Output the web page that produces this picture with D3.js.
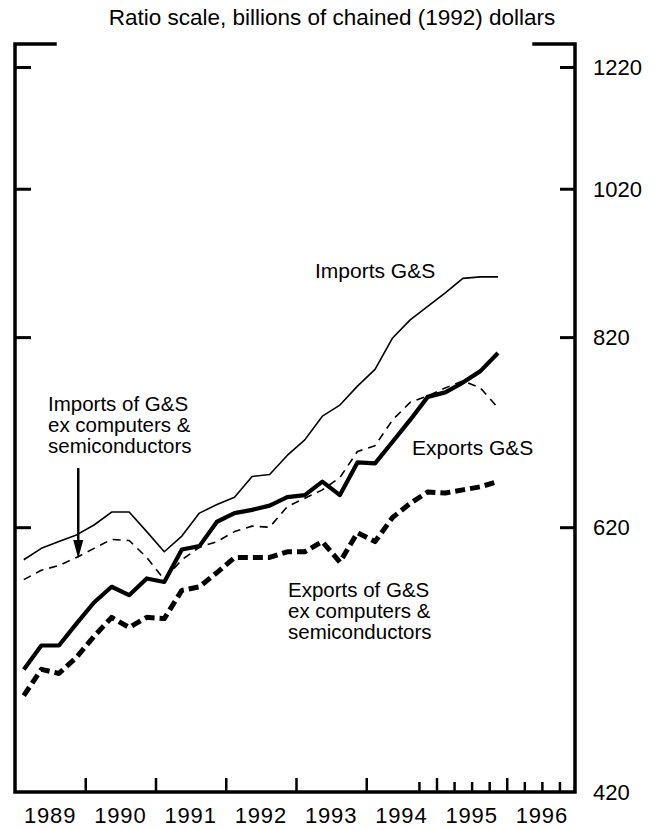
<!DOCTYPE html>
<html>
<head>
<meta charset="utf-8">
<script src="https://cdn.jsdelivr.net/npm/d3@7"></script>
<style>
  html, body { margin: 0; padding: 0; background: #fff; }
  svg { display: block; }
  text { font-family: "Liberation Sans", Arial, Helvetica, sans-serif; fill: #000; }
</style>
</head>
<body>
<svg id="chart" width="663" height="830"></svg>
<script>
// Quarterly observations, 1989:Q1 – 1995:Q4 (billions of chained 1992 dollars)
const quarters = d3.range(28).map(i => 1989 + Math.floor(i / 4) + ((i % 4) + 0.5) / 4);

const importsGS = [591, 601, 607, 613, 622, 634, 634, 616, 598, 612, 633, 641, 648, 668,
                   670, 689, 705, 730, 742, 763, 782, 819, 841, 858, 875, 894, 896, 896];
const exportsGS = [503, 521, 521, 538, 555, 568, 561, 575, 572, 600, 603, 625, 633, 636,
                   640, 648, 650, 663, 650, 682, 681, 703, 726, 751, 756, 767, 780, 801];
const importsEx = [574, 582, 586, 593, 601, 609, 608, 593, 574, 591, 602, 607, 616, 621,
                   620, 639, 647, 655, 667, 693, 699, 726, 745, 752, 761, 769, 761, 739];
const exportsEx = [484, 503, 500, 512, 528, 543, 535, 543, 542, 565, 568, 580, 593, 593,
                   593, 598, 598, 607, 589, 615, 607, 629, 642, 653, 652, 655, 658, 663];

const yTicks = [420, 620, 820, 1020, 1220];
const yearLabels = [1989, 1990, 1991, 1992, 1993, 1994, 1995, 1996];
const yearTicks = [1990, 1991, 1992, 1993, 1994, 1995, 1996];
const quarterTicks = [1994.75, 1995.25, 1995.5, 1995.75, 1996.25, 1996.5, 1996.75];

const svg = d3.select("#chart");

const plotL = 15, plotR = 575, plotT = 44, plotB = 792;
const x = d3.scaleLinear().domain([1989, 1997]).range([plotL, plotR + 2]);
const y = d3.scaleLog().domain([420, 1220]).range([plotB, 67]);

// Subtitle
svg.append("text")
  .attr("x", 332).attr("y", 25)
  .attr("text-anchor", "middle")
  .style("font-size", "22.5px")
  .text("Ratio scale, billions of chained (1992) dollars");

// Frame: open-topped box with short caps at each top corner
svg.append("path")
  .attr("fill", "none").attr("stroke", "#000")
  .attr("stroke-width", 3.5).attr("stroke-linecap", "square")
  .attr("d", `M${plotL + 40},${plotT}H${plotL}V${plotB}H${plotR}V${plotT}H${plotR - 41}`);

// Left-side inward ticks
const leftAxis = svg.append("g")
  .attr("transform", `translate(${plotL},0)`)
  .call(d3.axisRight(y).tickValues(yTicks.filter(v => v > 420)).tickSize(16).tickFormat(""));
// Right-side inward ticks
const rightAxis = svg.append("g")
  .attr("transform", `translate(${plotR},0)`)
  .call(d3.axisLeft(y).tickValues(yTicks.filter(v => v > 420)).tickSize(15).tickFormat(""));
[leftAxis, rightAxis].forEach(g => {
  g.select(".domain").remove();
  g.selectAll(".tick line").attr("stroke", "#000").attr("stroke-width", 3);
});

// Right-side value labels
svg.append("g").selectAll("text")
  .data(yTicks)
  .join("text")
  .attr("x", 593)
  .attr("y", d => y(d))
  .attr("dy", "0.36em")
  .style("font-size", "22px")
  .text(d => d);

// Bottom axis ticks: years, plus quarters for the last two years
const yearAxis = svg.append("g")
  .attr("transform", `translate(0,${plotB})`)
  .call(d3.axisTop(x).tickValues(yearTicks).tickSize(14).tickFormat(""));
const qAxis = svg.append("g")
  .attr("transform", `translate(0,${plotB})`)
  .call(d3.axisTop(x).tickValues(quarterTicks).tickSize(10).tickFormat(""));
[yearAxis, qAxis].forEach(g => {
  g.select(".domain").remove();
  g.selectAll(".tick line").attr("stroke", "#000").attr("stroke-width", 2.5);
});

// Year labels centred within each year
svg.append("g").selectAll("text")
  .data(yearLabels)
  .join("text")
  .attr("x", d => x(d + 0.5))
  .attr("y", 823)
  .attr("text-anchor", "middle")
  .style("font-size", "22px")
  .style("letter-spacing", "0.8px")
  .text(d => d);

// Series lines
const line = d3.line().x((d, i) => x(quarters[i])).y(d => y(d)).curve(d3.curveLinear);

const series = [
  { data: importsGS, width: 1.6, dash: null },
  { data: importsEx, width: 1.6, dash: "8,6" },
  { data: exportsEx, width: 5, dash: "10,5" },
  { data: exportsGS, width: 4.2, dash: null }
];
svg.append("g").selectAll("path")
  .data(series)
  .join("path")
  .attr("d", d => line(d.data))
  .attr("fill", "none")
  .attr("stroke", "#000")
  .attr("stroke-width", d => d.width)
  .attr("stroke-dasharray", d => d.dash)
  .attr("stroke-linejoin", "round");

// Annotations
function label(lines, xPos, yPos, lh, size) {
  const t = svg.append("text").attr("x", xPos).attr("y", yPos).style("font-size", size + "px");
  lines.forEach((s, i) => t.append("tspan").attr("x", xPos).attr("dy", i === 0 ? 0 : lh).text(s));
}
label(["Imports G&S"], 315, 278, 0, 21);
label(["Exports G&S"], 412, 455, 0, 21);
label(["Imports of G&S", "ex computers &", "semiconductors"], 48, 411, 21, 20.5);
label(["Exports of G&S", "ex computers &", "semiconductors"], 288, 597, 21, 20.5);

// Arrow pointing to the imports-ex line
const ax = x(1989.9);
svg.append("line")
  .attr("x1", ax).attr("x2", ax)
  .attr("y1", 468).attr("y2", 545)
  .attr("stroke", "#000").attr("stroke-width", 2.5);
svg.append("path")
  .attr("d", `M${ax - 5},${540}L${ax + 5},${540}L${ax},${y(593) + 1}Z`)
  .attr("fill", "#000");
</script>
</body>
</html>
